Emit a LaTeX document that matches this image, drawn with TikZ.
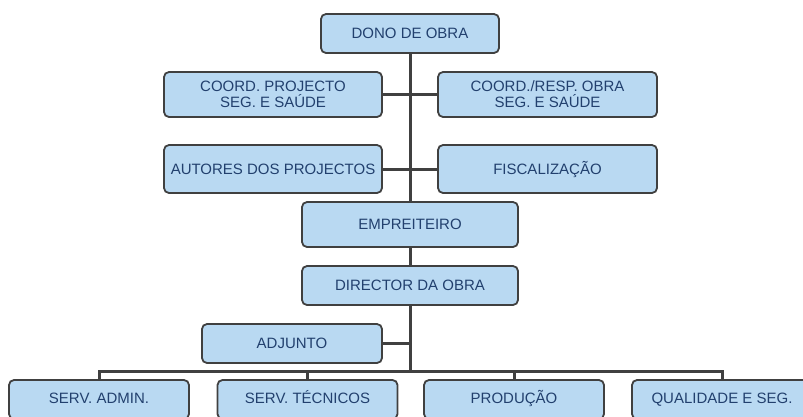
\documentclass[tikz,border=0pt]{standalone}
\usepackage{fontspec}
\setmainfont{Liberation Sans}
\definecolor{boxfill}{HTML}{B9D9F2}
\definecolor{boxline}{HTML}{404040}
\definecolor{boxtext}{HTML}{22406E}
\begin{document}
\begin{tikzpicture}[x=1pt,y=-1pt,
  box/.style={draw=boxline, line width=1.8pt, fill=boxfill, rounded corners=5pt,
    text=boxtext, font=\fontsize{15}{16}\selectfont, align=center, inner sep=0pt,
    minimum width=180pt, minimum height=39pt},
  servbox/.style={box, text height=11pt, text depth=3pt},
  link/.style={draw=boxline, line width=3pt}]
\useasboundingbox (0,0) rectangle (803,416);
\clip (0,0) rectangle (803,416);

% Dono de obra
\node[box, minimum width=178pt] (dono) at (410,33.5) {DONO DE OBRA};

% Coordenacao e projectos
\node[box, minimum width=218pt, minimum height=45pt] (cproj) at (273,94.5) {COORD. PROJECTO\\SEG. E SAÚDE};
\node[box, minimum width=219pt, minimum height=45pt] (cresp) at (547.5,94.5) {COORD./RESP. OBRA\\SEG. E SAÚDE};
\node[box, minimum width=218pt, minimum height=48pt] (autores) at (273,169) {AUTORES DOS PROJECTOS};
\node[box, minimum width=219pt, minimum height=48pt] (fisc) at (547.5,169) {FISCALIZAÇÃO};

% Empreiteiro
\node[box, minimum width=216pt, minimum height=45pt] (empr) at (410,224.5) {EMPREITEIRO};
\node[box, minimum width=216pt] (dir) at (410,285.5) {DIRECTOR DA OBRA};
\node[box] (adj) at (292,343.5) {ADJUNTO};

% Servicos
\node[servbox] (sa) at (99,399.5) {SERV. ADMIN.};
\node[servbox] (st) at (307.5,399.5) {SERV. TÉCNICOS};
\node[servbox] (pr) at (514,399.5) {PRODUÇÃO};
\node[servbox] (qs) at (722,399.5) {QUALIDADE E SEG.};
\coordinate (bus) at (410,371);

% Ligacoes
\draw[link] (dono.south) -- (empr.north);
\draw[link] (cproj.east) -- (cresp.west);
\draw[link] (autores.east) -- (fisc.west);
\draw[link] (empr.south) -- (dir.north);
\draw[link] (dir.south) -- (bus);
\draw[link] (adj.east) -- (adj.east -| dir.south);
\draw[link] (sa.north) -- (sa.north |- bus) -- (qs.north |- bus) -- (qs.north);
\foreach \n in {st,pr} {
  \draw[link] (\n.north) -- (\n.north |- bus);
}
\end{tikzpicture}
\end{document}
